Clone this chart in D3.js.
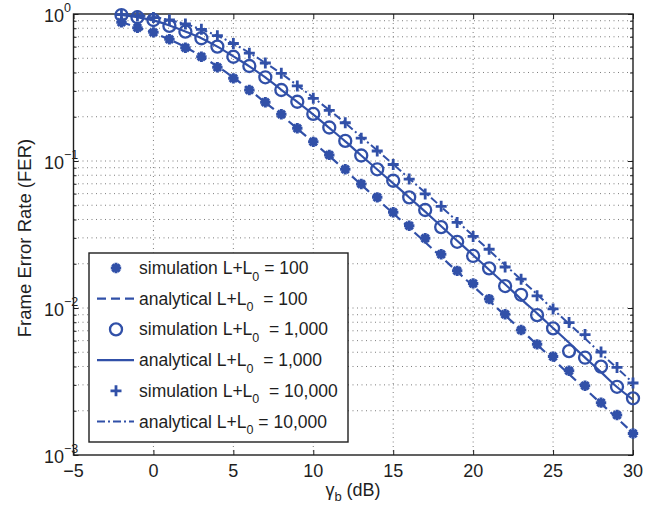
<!DOCTYPE html>
<html>
<head>
<meta charset="utf-8">
<script src="https://cdn.jsdelivr.net/npm/d3@7"></script>
<style>
  html, body { margin: 0; padding: 0; background: #fff; }
  svg { display: block; font-family: "Liberation Sans", Arial, Helvetica, sans-serif; }
  .pre { white-space: pre; }
</style>
</head>
<body>
<svg id="chart" width="657" height="506"></svg>
<script>
// SNR axis (dB)
const snr = [-2,-1,0,1,2,3,4,5,6,7,8,9,10,11,12,13,14,15,16,17,18,19,20,21,22,23,24,25,26,27,28,29,30];

// Simulated FER, L+L0 = 100
const simL100 = [0.878,0.807,0.75,0.673,0.59,0.512,0.434,0.365,0.304,0.251,0.208,0.167,0.135,0.110,0.0878,0.0698,0.0566,0.0448,0.0363,0.0298,0.0232,0.0179,0.0147,0.0115,0.00906,0.00708,0.00566,0.00467,0.00374,0.00296,0.00227,0.00187,0.00140];
// Analytical FER, L+L0 = 100
const anaL100 = [0.88,0.81,0.745,0.67,0.595,0.515,0.44,0.37,0.305,0.25,0.205,0.166,0.134,0.108,0.0865,0.069,0.055,0.044,0.0352,0.028,0.0223,0.0177,0.0141,0.0112,0.0089,0.0071,0.00563,0.00447,0.00355,0.00282,0.00224,0.00178,0.00141];

// Simulated FER, L+L0 = 1,000
const simL1000 = [0.984,0.95,0.91,0.83,0.758,0.684,0.60,0.512,0.443,0.371,0.304,0.253,0.209,0.169,0.137,0.109,0.0878,0.0734,0.0566,0.0464,0.0355,0.0282,0.0226,0.0186,0.0141,0.0123,0.00895,0.00727,0.00509,0.00459,0.00399,0.00291,0.00243];
// Analytical FER, L+L0 = 1,000
const anaL1000 = [0.985,0.95,0.905,0.835,0.76,0.685,0.60,0.515,0.44,0.37,0.305,0.252,0.207,0.168,0.136,0.109,0.0875,0.0705,0.0565,0.0452,0.036,0.0287,0.0229,0.0182,0.0145,0.0115,0.0092,0.0073,0.0058,0.0046,0.00366,0.0029,0.00238];

// Simulated FER, L+L0 = 10,000
const simL10000 = [0.99,0.97,0.945,0.91,0.855,0.787,0.712,0.63,0.541,0.464,0.395,0.324,0.267,0.221,0.182,0.143,0.117,0.0947,0.0754,0.0597,0.0492,0.0382,0.0307,0.0251,0.0190,0.0157,0.0121,0.00985,0.00796,0.00660,0.00502,0.00394,0.00309];
// Analytical FER, L+L0 = 10,000
const anaL10000 = [0.995,0.98,0.955,0.91,0.855,0.785,0.71,0.63,0.545,0.465,0.393,0.327,0.27,0.222,0.181,0.146,0.118,0.095,0.076,0.061,0.0488,0.0389,0.031,0.0247,0.0196,0.0156,0.0124,0.0098,0.0078,0.0062,0.0049,0.0039,0.0031];

// Axis ticks
const xTicks = [-5,0,5,10,15,20,25,30];
const yExponents = [0,-1,-2,-3];
const xLabel = ["γ", "b", " (dB)"];
const yLabel = "Frame Error Rate (FER)";

// Legend entries
const legendItems = [
  { kind: "star",    pre: "simulation L+L", post: " = 100" },
  { kind: "dash",    pre: "analytical L+L", post: "  = 100" },
  { kind: "circle",  pre: "simulation L+L", post: "  = 1,000" },
  { kind: "solid",   pre: "analytical L+L", post: "  = 1,000" },
  { kind: "plus",    pre: "simulation L+L", post: "  = 10,000" },
  { kind: "dashdot", pre: "analytical L+L", post: " = 10,000" }
];

const blue = "#3150a8";
const ink = "#1e1e1e";
const svg = d3.select("#chart");
const plotL = 73.5, plotR = 633, plotT = 14, plotB = 455;

const x = d3.scaleLinear().domain([-5, 30]).range([plotL, plotR]);
const y = d3.scaleLog().domain([1e-3, 1]).range([plotB, plotT]);

// minor log values for grid and ticks
const minorY = [];
for (let e = -3; e < 0; e++) for (let k = 2; k <= 9; k++) minorY.push(k * Math.pow(10, e));
const majorY = yExponents.map(e => Math.pow(10, e));

// dotted grid
const grid = svg.append("g").attr("stroke", "#333").attr("stroke-width", 0.9)
  .attr("stroke-dasharray", "1,3.5").attr("opacity", 0.7);
grid.selectAll("line.gx").data(xTicks.slice(1, -1)).join("line").attr("class", "gx")
  .attr("x1", d => x(d)).attr("x2", d => x(d)).attr("y1", plotT).attr("y2", plotB);
grid.selectAll("line.gy").data(minorY.concat([1e-2, 1e-1])).join("line").attr("class", "gy")
  .attr("x1", plotL).attr("x2", plotR).attr("y1", d => y(d)).attr("y2", d => y(d));

// axes with inward ticks on all four sides
const axisG = svg.append("g");
axisG.append("g").attr("transform", `translate(0,${plotB})`)
  .call(d3.axisBottom(x).tickValues(xTicks).tickSize(-5).tickSizeOuter(0).tickFormat(""));
axisG.append("g").attr("transform", `translate(0,${plotT})`)
  .call(d3.axisTop(x).tickValues(xTicks).tickSize(-5).tickSizeOuter(0).tickFormat(""));
axisG.append("g").attr("transform", `translate(${plotL},0)`)
  .call(d3.axisLeft(y).tickValues(majorY).tickSize(-5).tickSizeOuter(0).tickFormat(""));
axisG.append("g").attr("transform", `translate(${plotL},0)`)
  .call(d3.axisLeft(y).tickValues(minorY).tickSize(-3).tickSizeOuter(0).tickFormat(""));
axisG.append("g").attr("transform", `translate(${plotR},0)`)
  .call(d3.axisRight(y).tickValues(majorY).tickSize(-5).tickSizeOuter(0).tickFormat(""));
axisG.append("g").attr("transform", `translate(${plotR},0)`)
  .call(d3.axisRight(y).tickValues(minorY).tickSize(-3).tickSizeOuter(0).tickFormat(""));
axisG.selectAll(".domain").remove();
axisG.selectAll("line").attr("stroke", ink).attr("stroke-width", 1);

// frame
svg.append("rect").attr("x", plotL).attr("y", plotT).attr("width", plotR - plotL).attr("height", plotB - plotT)
  .attr("fill", "none").attr("stroke", ink).attr("stroke-width", 1.4);

// tick labels
svg.append("g").selectAll("text").data(xTicks).join("text")
  .attr("x", d => x(d)).attr("y", 476.5).attr("text-anchor", "middle")
  .attr("font-size", 18).attr("fill", ink)
  .text(d => d < 0 ? "\u2212" + Math.abs(d) : d);

const yLab = svg.append("g").selectAll("text").data(yExponents).join("text")
  .attr("x", 44).attr("y", d => y(Math.pow(10, d)) + 7.5)
  .attr("font-size", 18).attr("fill", ink);
yLab.append("tspan").text("10");
yLab.append("tspan").attr("font-size", 12.5).attr("dy", -10)
  .text(d => d === 0 ? "0" : "\u2212" + Math.abs(d));

// axis titles
const xTitle = svg.append("text").attr("x", 353).attr("y", 496).attr("text-anchor", "middle")
  .attr("font-size", 18).attr("fill", ink).attr("class", "pre");
xTitle.append("tspan").text(xLabel[0]);
xTitle.append("tspan").attr("font-size", 13).attr("dy", 5).text(xLabel[1]);
xTitle.append("tspan").attr("dy", -5).text(xLabel[2]);

svg.append("text").attr("transform", "translate(30.5,238) rotate(-90)")
  .attr("text-anchor", "middle").attr("font-size", 18.5).attr("fill", ink).text(yLabel);

// marker shapes
function starPath(r) {
  const d = r * Math.SQRT1_2;
  return `M${-r},0L${r},0M0,${-r}L0,${r}M${-d},${-d}L${d},${d}M${-d},${d}L${d},${-d}`;
}
function plusPath(r) { return `M${-r},0L${r},0M0,${-r}L0,${r}`; }

const line = d3.line().x(d => x(d[0])).y(d => y(d[1])).curve(d3.curveMonotoneX);
const plot = svg.append("g");

const styles = {
  dash: { "stroke-width": 2.2, "stroke-dasharray": "9,5" },
  solid: { "stroke-width": 2.2 },
  dashdot: { "stroke-width": 2, "stroke-dasharray": "8,3,2,3" }
};
function applyStyle(sel, s) { Object.entries(s).forEach(([k, v]) => sel.attr(k, v)); return sel; }

[[anaL100, "dash"], [anaL1000, "solid"], [anaL10000, "dashdot"]].forEach(([vals, kind]) => {
  applyStyle(plot.append("path").datum(snr.map((s, i) => [s, vals[i]]))
    .attr("d", line).attr("fill", "none").attr("stroke", blue), styles[kind]);
});

function drawMarker(g, kind) {
  if (kind === "star") {
    g.append("path").attr("d", starPath(5.2)).attr("stroke", blue).attr("stroke-width", 3).attr("fill", "none");
  } else if (kind === "circle") {
    g.append("circle").attr("r", 6).attr("stroke", blue).attr("stroke-width", 2.3).attr("fill", "none");
  } else if (kind === "plus") {
    g.append("path").attr("d", plusPath(5.5)).attr("stroke", blue).attr("stroke-width", 2.8).attr("fill", "none");
  }
}

[[simL100, "star"], [simL1000, "circle"], [simL10000, "plus"]].forEach(([vals, kind]) => {
  plot.append("g").selectAll("g").data(snr.map((s, i) => [s, vals[i]])).join("g")
    .attr("transform", d => `translate(${x(d[0])},${y(d[1])})`)
    .each(function() { drawMarker(d3.select(this), kind); });
});

// legend
const lg = svg.append("g");
lg.append("rect").attr("x", 89).attr("y", 253).attr("width", 259).attr("height", 189)
  .attr("fill", "#fff").attr("stroke", ink).attr("stroke-width", 1.4);
const rowY = d3.scaleLinear().domain([0, 5]).range([268, 421.5]);
legendItems.forEach((item, i) => {
  const cy = rowY(i);
  if (styles[item.kind]) {
    applyStyle(lg.append("line").attr("x1", 97).attr("x2", 134).attr("y1", cy).attr("y2", cy)
      .attr("stroke", blue), styles[item.kind]);
  } else {
    drawMarker(lg.append("g").attr("transform", `translate(116,${cy})`), item.kind);
  }
  const t = lg.append("text").attr("x", 139).attr("y", cy + 6).attr("font-size", 17.5)
    .attr("fill", ink).attr("class", "pre");
  t.append("tspan").text(item.pre);
  t.append("tspan").attr("font-size", 12.5).attr("dy", 6.5).text("0");
  t.append("tspan").attr("dy", -6.5).text(item.post);
});
</script>
</body>
</html>
